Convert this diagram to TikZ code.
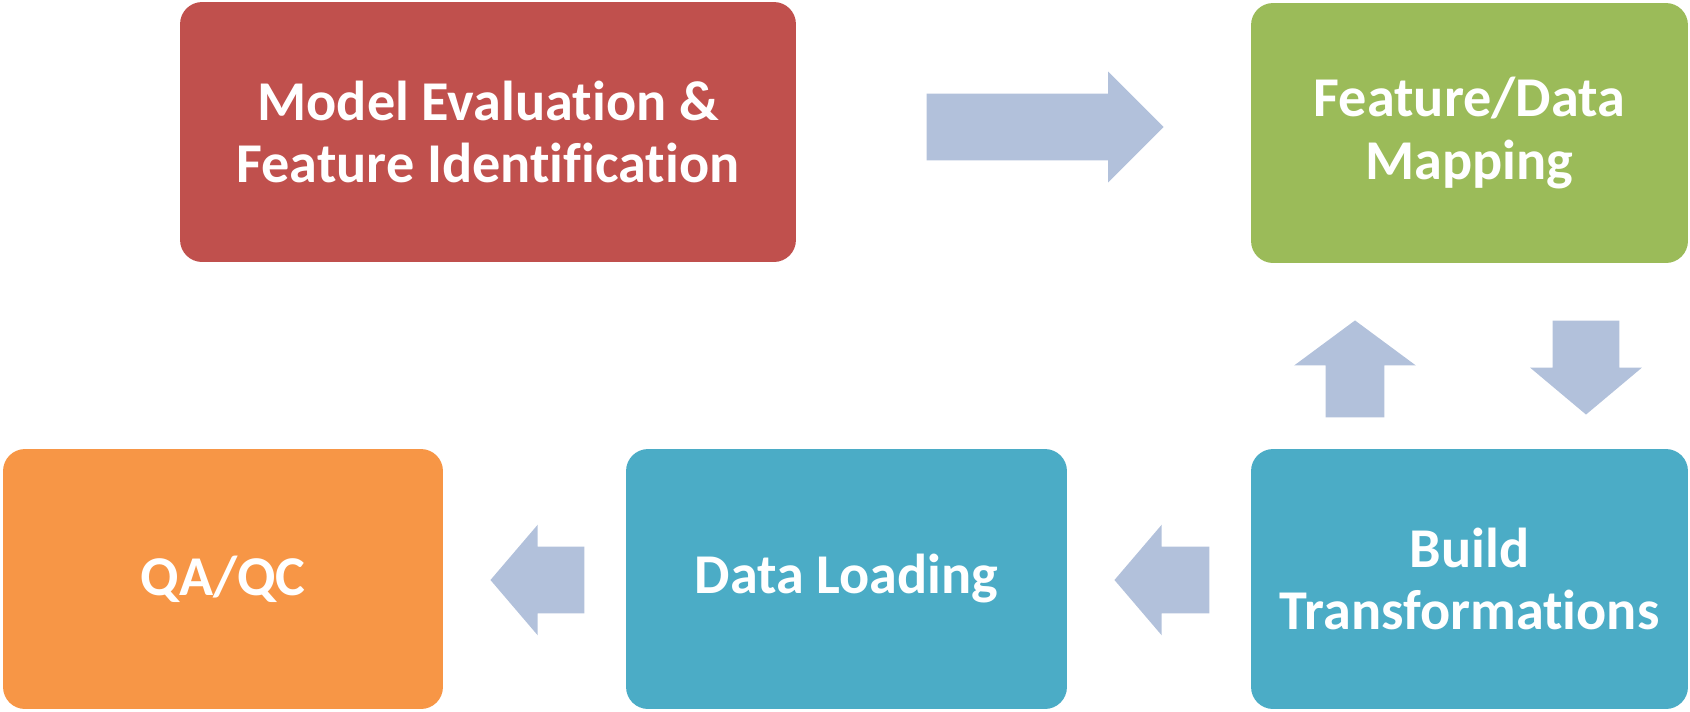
\documentclass[tikz,border=0pt]{standalone}
\usepackage{fontspec}
\setmainfont[Ligatures=NoCommon]{Carlito}
\usepackage{xcolor}
\usepackage{tikz}
\usetikzlibrary{shapes.arrows}

\definecolor{evalred}{HTML}{C0504D}
\definecolor{mapgreen}{HTML}{9BBB59}
\definecolor{loadteal}{HTML}{4BACC6}
\definecolor{qaorange}{HTML}{F79646}
\definecolor{arrowblue}{HTML}{B2C1DB}

\begin{document}
\begin{tikzpicture}[x=0.02cm, y=-0.02cm,%
% common options for the boxes:
box/.style = {rectangle, rounded corners=0.44cm, align=center, text=white,
            font=\fontsize{32}{35.5}\selectfont\bfseries,
            minimum height=5.2cm, inner sep=0},
% common options for the block arrows (shaft set by the text box):
barrow/.style = {single arrow, fill=arrowblue, draw=none, inner sep=0,
            text height=1.32cm, text depth=0pt, anchor=tip},
vbarrow/.style = {barrow, text height=0pt, text width=#1}]
\useasboundingbox (0,0) rectangle (1690,711);

% top row
\node[box, fill=evalred, minimum width=12.32cm] (eval) at (488,132) {Model Evaluation \&\\Feature Identification};
\node[box, fill=mapgreen, minimum width=8.74cm] (map) at (1469.5,133) {Feature/Data\\Mapping};

% bottom row
\node[box, fill=qaorange, minimum width=8.8cm] (qa) at (223,579) {QA/QC};
\node[box, fill=loadteal, minimum width=8.82cm] (load) at (846.5,579) {Data Loading};
\node[box, fill=loadteal, minimum width=8.74cm] (build) at (1469.5,579) {Build\\Transformations};

% block arrows
\node[barrow, minimum height=4.74cm, single arrow head extend=0.44cm,
      single arrow tip angle=90] (a1) at (1164,127) {};
\node[vbarrow=1.16cm, shape border rotate=90, minimum height=1.94cm,
      single arrow head extend=0.63cm, single arrow tip angle=107] (a2) at (1355,320) {};
\node[vbarrow=1.32cm, shape border rotate=270, minimum height=1.88cm,
      single arrow head extend=0.45cm, single arrow tip angle=100] (a3) at (1586,415) {};
\node[barrow, shape border rotate=180, minimum height=1.9cm,
      single arrow head extend=0.44cm, single arrow tip angle=99] (a4) at (1114,580) {};
\node[barrow, shape border rotate=180, minimum height=1.88cm,
      single arrow head extend=0.44cm, single arrow tip angle=99] (a5) at (490,580) {};
\end{tikzpicture}
\end{document}
